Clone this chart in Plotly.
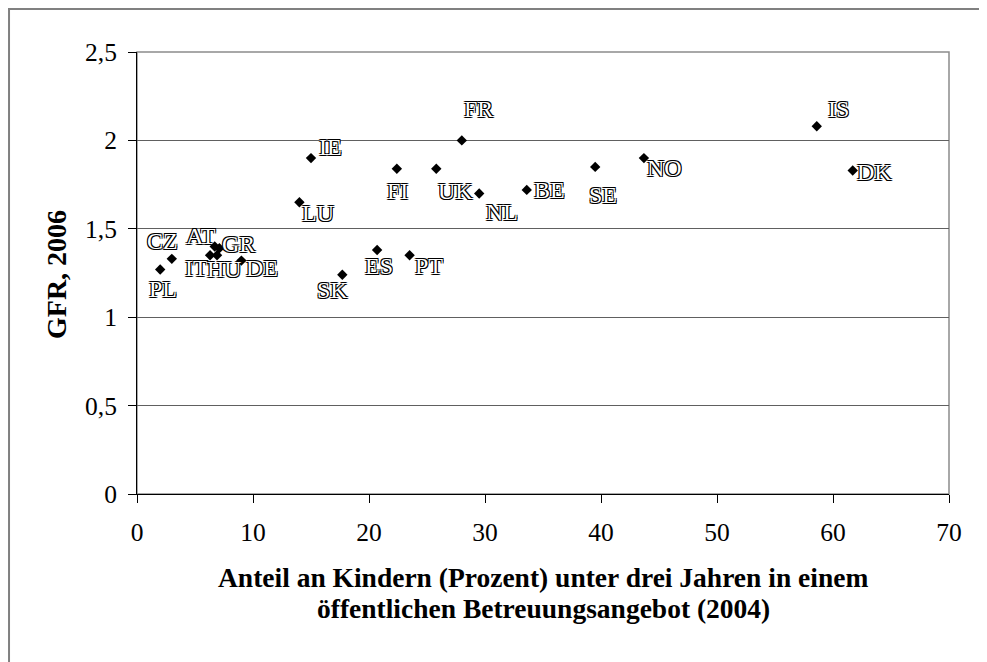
import plotly.graph_objects as go

countries = ["PL", "CZ", "AT", "GR", "IT", "HU", "DE", "LU", "IE", "FI", "UK",
             "FR", "NL", "BE", "SK", "ES", "PT", "SE", "NO", "IS", "DK"]
childcare_share = [2.0, 3.0, 6.7, 7.1, 6.3, 6.9, 9.0, 14.0, 15.0, 22.4, 25.8,
                   28.0, 29.5, 33.6, 17.7, 20.7, 23.5, 39.5, 43.7, 58.6, 61.7]
gfr_2006 = [1.27, 1.33, 1.40, 1.39, 1.35, 1.35, 1.32, 1.65, 1.90, 1.84, 1.84,
            2.00, 1.70, 1.72, 1.24, 1.38, 1.35, 1.85, 1.90, 2.08, 1.83]

# label offsets from their point, in pixels (right, down)
label_dx = [3, -9, -14, 19, -14, 7, 21, 19, 19, 1, 19, 17, 23, 23, -10, 2, 19, 8, 21, 22, 22]
label_dy = [22, -16, -8, -2, 15, 16, 9, 13, -9, 24, 24, -29, 21, 2, 17, 18, 13, 30, 12, -15, 4]

x_title_lines = ["Anteil an Kindern (Prozent) unter drei Jahren in einem",
                 "öffentlichen Betreuungsangebot (2004)"]
y_title = "GFR, 2006"

SERIF = "Liberation Serif, Times New Roman, serif"
outline = "-1px -1px 0 #000, 1px -1px 0 #000, -1px 1px 0 #000, 1px 1px 0 #000"

fig = go.Figure()
fig.add_trace(go.Scatter(
    x=childcare_share, y=gfr_2006,
    mode="markers",
    marker=dict(symbol="diamond", size=8, color="black"),
    cliponaxis=False,
    showlegend=False,
    hovertext=countries,
))

annotations = []
for name, xv, yv, dx, dy in zip(countries, childcare_share, gfr_2006, label_dx, label_dy):
    annotations.append(dict(
        x=xv, y=yv, xref="x", yref="y", text=name, showarrow=False,
        xanchor="center", yanchor="middle", xshift=dx, yshift=-dy + 2,
        font=dict(family=SERIF, size=24, color="white", shadow=outline),
    ))

for i, line in enumerate(x_title_lines):
    annotations.append(dict(
        x=0.5, y=[-0.190, -0.260][i], xref="paper", yref="paper", text=line,
        showarrow=False, xanchor="center", yanchor="middle",
        font=dict(family=SERIF, size=27.5, color="black", weight="bold"),
    ))
annotations.append(dict(
    x=-0.0985, y=0.4955, xref="paper", yref="paper", text=y_title, textangle=-90,
    showarrow=False, xanchor="center", yanchor="middle",
    font=dict(family=SERIF, size=28, color="black", weight="bold"),
))

fig.update_layout(
    width=987, height=662, autosize=False,
    margin=dict(l=129, r=46, t=44, b=176),
    paper_bgcolor="white", plot_bgcolor="white",
    separators=",.",
    font=dict(family=SERIF, color="black", size=25),
    annotations=annotations,
    shapes=[
        dict(type="rect", xref="paper", yref="paper", x0=0, x1=1, y0=0, y1=1,
             line=dict(color="#8c8c8c", width=1.5), layer="below"),
        dict(type="rect", xref="paper", yref="paper", x0=-0.1576, x1=1.2, y0=-0.6, y1=1.0973,
             line=dict(color="#808080", width=2), layer="below"),
    ],
)
fig.update_xaxes(
    range=[0, 70], dtick=10, tick0=0,
    ticks="outside", ticklen=8, tickcolor="black", tickwidth=1,
    showline=True, linecolor="black", linewidth=1,
    showgrid=False, zeroline=False,
    tickfont=dict(family=SERIF, size=25.5, color="black"),
    ticklabelstandoff=7,
)
fig.update_yaxes(
    range=[0, 2.5], dtick=0.5, tick0=0,
    ticks="outside", ticklen=8, tickcolor="black", tickwidth=1,
    showline=True, linecolor="black", linewidth=1,
    showgrid=True, gridcolor="#606060", gridwidth=1, zeroline=False,
    tickfont=dict(family=SERIF, size=25.5, color="black"),
    ticklabelstandoff=6,
)

fig.write_html("out.html")
